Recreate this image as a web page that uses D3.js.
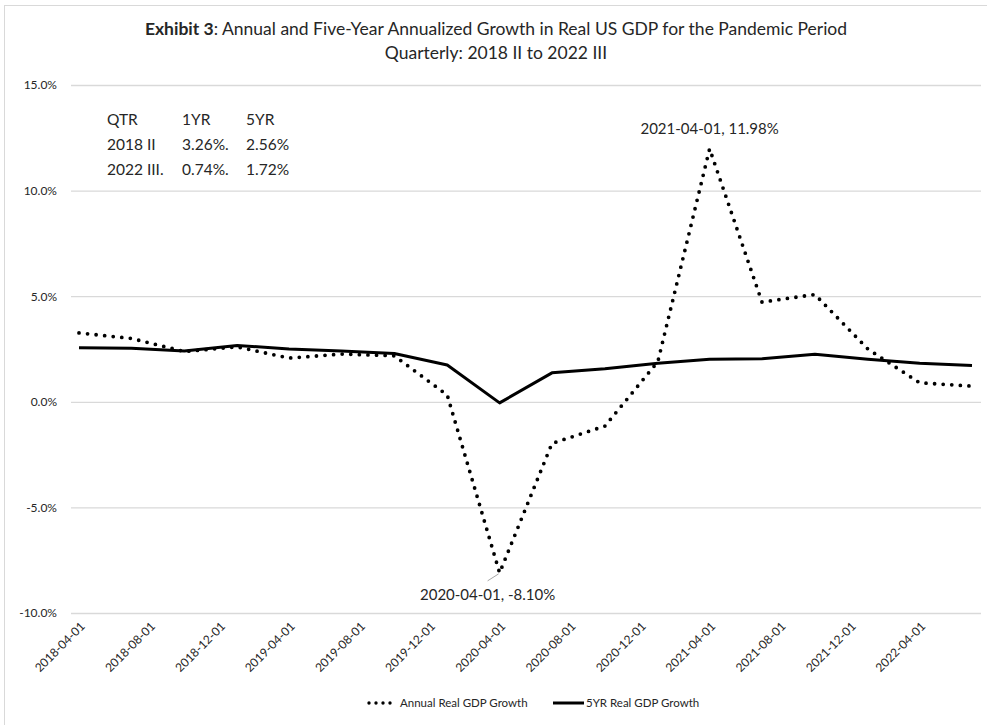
<!DOCTYPE html>
<html>
<head>
<meta charset="utf-8">
<script src="https://cdn.jsdelivr.net/npm/d3@7"></script>
<style>
  html, body { margin: 0; padding: 0; background: #ffffff; }
  svg { display: block; }
  text { font-family: Lato, "Open Sans", sans-serif; fill: #262626; }
</style>
</head>
<body>
<svg id="chart" width="987" height="725"></svg>
<script>
// ---- data ----
const quarterDates = ["2018-04-01","2018-07-01","2018-10-01","2019-01-01","2019-04-01","2019-07-01",
  "2019-10-01","2020-01-01","2020-04-01","2020-07-01","2020-10-01","2021-01-01","2021-04-01",
  "2021-07-01","2021-10-01","2022-01-01","2022-04-01","2022-07-01"];
const annualGrowth = [3.26, 3.00, 2.38, 2.60, 2.07, 2.26, 2.18, 0.32, -8.10, -1.97, -1.15, 1.90,
  11.98, 4.72, 5.08, 2.50, 0.90, 0.74];
const fiveYrGrowth = [2.56, 2.54, 2.40, 2.67, 2.50, 2.40, 2.29, 1.74, -0.05, 1.37, 1.56, 1.82,
  2.01, 2.04, 2.25, 2.02, 1.82, 1.72];
const xTickLabels = ["2018-04-01","2018-08-01","2018-12-01","2019-04-01","2019-08-01","2019-12-01",
  "2020-04-01","2020-08-01","2020-12-01","2021-04-01","2021-08-01","2021-12-01","2022-04-01"];
const yTickValues = [-10, -5, 0, 5, 10, 15];
const seriesNames = ["Annual Real GDP Growth", "5YR Real GDP Growth"];
const titleBold = "Exhibit 3";
const titleRest = ": Annual and Five-Year Annualized Growth in Real US GDP for the Pandemic Period";
const subtitle = "Quarterly: 2018 II to 2022 III";
const tableRows = [["QTR", "1YR", "5YR"], ["2018 II", "3.26%.", "2.56%"], ["2022 III.", "0.74%.", "1.72%"]];
const peakLabel = {date: "2021-04-01", value: 11.98};
const troughLabel = {date: "2020-04-01", value: -8.10};

// ---- setup ----
const parse = d3.utcParse("%Y-%m-%d");
const svg = d3.select("#chart");
const plot = {left: 71, right: 981, top: 85, bottom: 613};
const fmtLocale = d3.formatLocale({decimal: ".", thousands: ",", grouping: [3], currency: ["$", ""], minus: "-"});
const fmt1 = fmtLocale.format(".1f"), fmt2 = fmtLocale.format(".2f");

svg.append("rect").attr("x", 0).attr("y", 0).attr("width", 987).attr("height", 725).attr("fill", "#fff");
svg.append("rect").attr("x", 4.5).attr("y", 5.5).attr("width", 1000).attr("height", 1000)
  .attr("fill", "none").attr("stroke", "#d9d9d9").attr("stroke-width", 1);

const x = d3.scaleUtc()
  .domain([parse(quarterDates[0]), parse(quarterDates[quarterDates.length - 1])])
  .range([79, 972]);
const y = d3.scaleLinear().domain([-10, 15]).range([plot.bottom, plot.top]);

// gridlines + y labels
const yAxis = d3.axisLeft(y).tickValues(yTickValues)
  .tickSize(-(plot.right - plot.left)).tickPadding(14)
  .tickFormat(d => fmt1(d) + "%");
const gy = svg.append("g").attr("transform", `translate(${plot.left},0)`).call(yAxis);
gy.select(".domain").remove();
gy.selectAll(".tick line").attr("stroke", "#d9d9d9").attr("stroke-width", 1.3);
gy.selectAll(".tick text").attr("font-size", 12).attr("fill", "#404040")
  .style("font-family", "Lato, sans-serif");

// x axis labels
const xAxis = d3.axisBottom(x).tickValues(xTickLabels.map(parse))
  .tickSize(0).tickFormat(d3.utcFormat("%Y-%m-%d"));
const gx = svg.append("g").attr("transform", `translate(0,${plot.bottom})`).call(xAxis);
gx.select(".domain").remove();
gx.selectAll(".tick text")
  .attr("font-size", 12).attr("fill", "#404040").style("font-family", "Lato, sans-serif")
  .attr("text-anchor", "end")
  .attr("dx", 0).attr("dy", 0)
  .attr("transform", "translate(4,12) rotate(-45)");

// lines
const pts = (vals) => quarterDates.map((d, i) => [parse(d), vals[i]]);
const line = d3.line().x(d => x(d[0])).y(d => y(d[1]));

svg.append("path").datum(pts(fiveYrGrowth)).attr("d", line)
  .attr("fill", "none").attr("stroke", "#000").attr("stroke-width", 3)
  .attr("stroke-linejoin", "round");
svg.append("path").datum(pts(annualGrowth)).attr("d", line)
  .attr("fill", "none").attr("stroke", "#000").attr("stroke-width", 3.8)
  .attr("stroke-linecap", "round").attr("stroke-dasharray", "0 8.6");

// data labels
const fmtPct = v => fmt2(v) + "%";
svg.append("text")
  .attr("x", x(parse(peakLabel.date))).attr("y", y(peakLabel.value) - 15)
  .attr("text-anchor", "middle").attr("font-size", 15)
  .text(`${peakLabel.date}, ${fmtPct(peakLabel.value)}`);
const tx = x(parse(troughLabel.date)), ty = y(troughLabel.value);
svg.append("line").attr("x1", tx - 1).attr("y1", ty + 1).attr("x2", tx - 12).attr("y2", ty + 8)
  .attr("stroke", "#a6a6a6").attr("stroke-width", 1);
svg.append("text")
  .attr("x", tx - 12).attr("y", ty + 27)
  .attr("text-anchor", "middle").attr("font-size", 15)
  .text(`${troughLabel.date}, ${fmtPct(troughLabel.value)}`);

// text table
const colX = [107, 182, 246];
const rowY = [125, 150, 175];
tableRows.forEach((row, r) => {
  row.forEach((cell, c) => {
    svg.append("text").attr("x", colX[c]).attr("y", rowY[r]).attr("font-size", 15.5).text(cell);
  });
});

// title
const t1 = svg.append("text").attr("x", 496).attr("y", 35).attr("text-anchor", "middle").attr("font-size", 17.5);
t1.append("tspan").attr("font-weight", "bold").text(titleBold);
t1.append("tspan").text(titleRest);
svg.append("text").attr("x", 496).attr("y", 59).attr("text-anchor", "middle").attr("font-size", 17.5).text(subtitle);

// legend
const lg = svg.append("g");
lg.append("line").attr("x1", 369).attr("x2", 397).attr("y1", 703).attr("y2", 703)
  .attr("stroke", "#000").attr("stroke-width", 3.4).attr("stroke-linecap", "round").attr("stroke-dasharray", "0 7");
lg.append("text").attr("x", 400).attr("y", 707).attr("font-size", 11.5).attr("fill", "#404040").text(seriesNames[0]);
lg.append("line").attr("x1", 553).attr("x2", 584).attr("y1", 703).attr("y2", 703)
  .attr("stroke", "#000").attr("stroke-width", 3);
lg.append("text").attr("x", 586).attr("y", 707).attr("font-size", 11.5).attr("fill", "#404040").text(seriesNames[1]);
</script>
</body>
</html>
